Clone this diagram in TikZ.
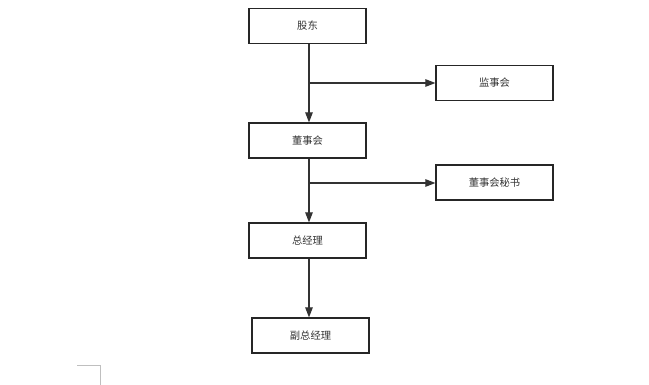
\documentclass[tikz,border=0pt]{standalone}
\usepackage{fontspec}
\newfontfamily\cjk{Noto Sans CJK SC}
\usetikzlibrary{arrows.meta}
\begin{document}
\begin{tikzpicture}[x=1pt,y=-1pt,
  box/.style={draw=black!85,line width=1.2pt,minimum width=117pt,minimum height=35pt,inner sep=0pt,font=\cjk\fontsize{10.3}{12}\selectfont,text=black!80},
  conn/.style={draw=black!80,line width=1.1pt,-{Triangle[length=10pt,width=7.5pt]}},
  trunk/.style={draw=black!80,line width=1.1pt}]
\useasboundingbox (0,0) rectangle (649,385);
\node[box] (gd) at (307.5,26) {股东};
\node[box] (jsh) at (494.5,83) {监事会};
\node[box] (dsh) at (307.5,140.5) {董事会};
\node[box] (ms) at (494.5,182.5) {董事会秘书};
\node[box] (zjl) at (307.5,240.5) {总经理};
\node[box] (fz) at (310.5,335.5) {副总经理};
\coordinate (b1) at (309,83);
\coordinate (b2) at (309,183);
\draw[conn] (gd.south -| b1) -- (dsh.north -| b1);
\draw[conn] (b1) -- (b1 -| jsh.west);
\draw[conn] (dsh.south -| b2) -- (zjl.north -| b2);
\draw[conn] (b2) -- (b2 -| ms.west);
\draw[conn] (zjl.south -| b2) -- (fz.north -| b2);
\draw[black!25,line width=1pt] (77,365.5) -- (100.5,365.5) -- (100.5,385);
\end{tikzpicture}
\end{document}
